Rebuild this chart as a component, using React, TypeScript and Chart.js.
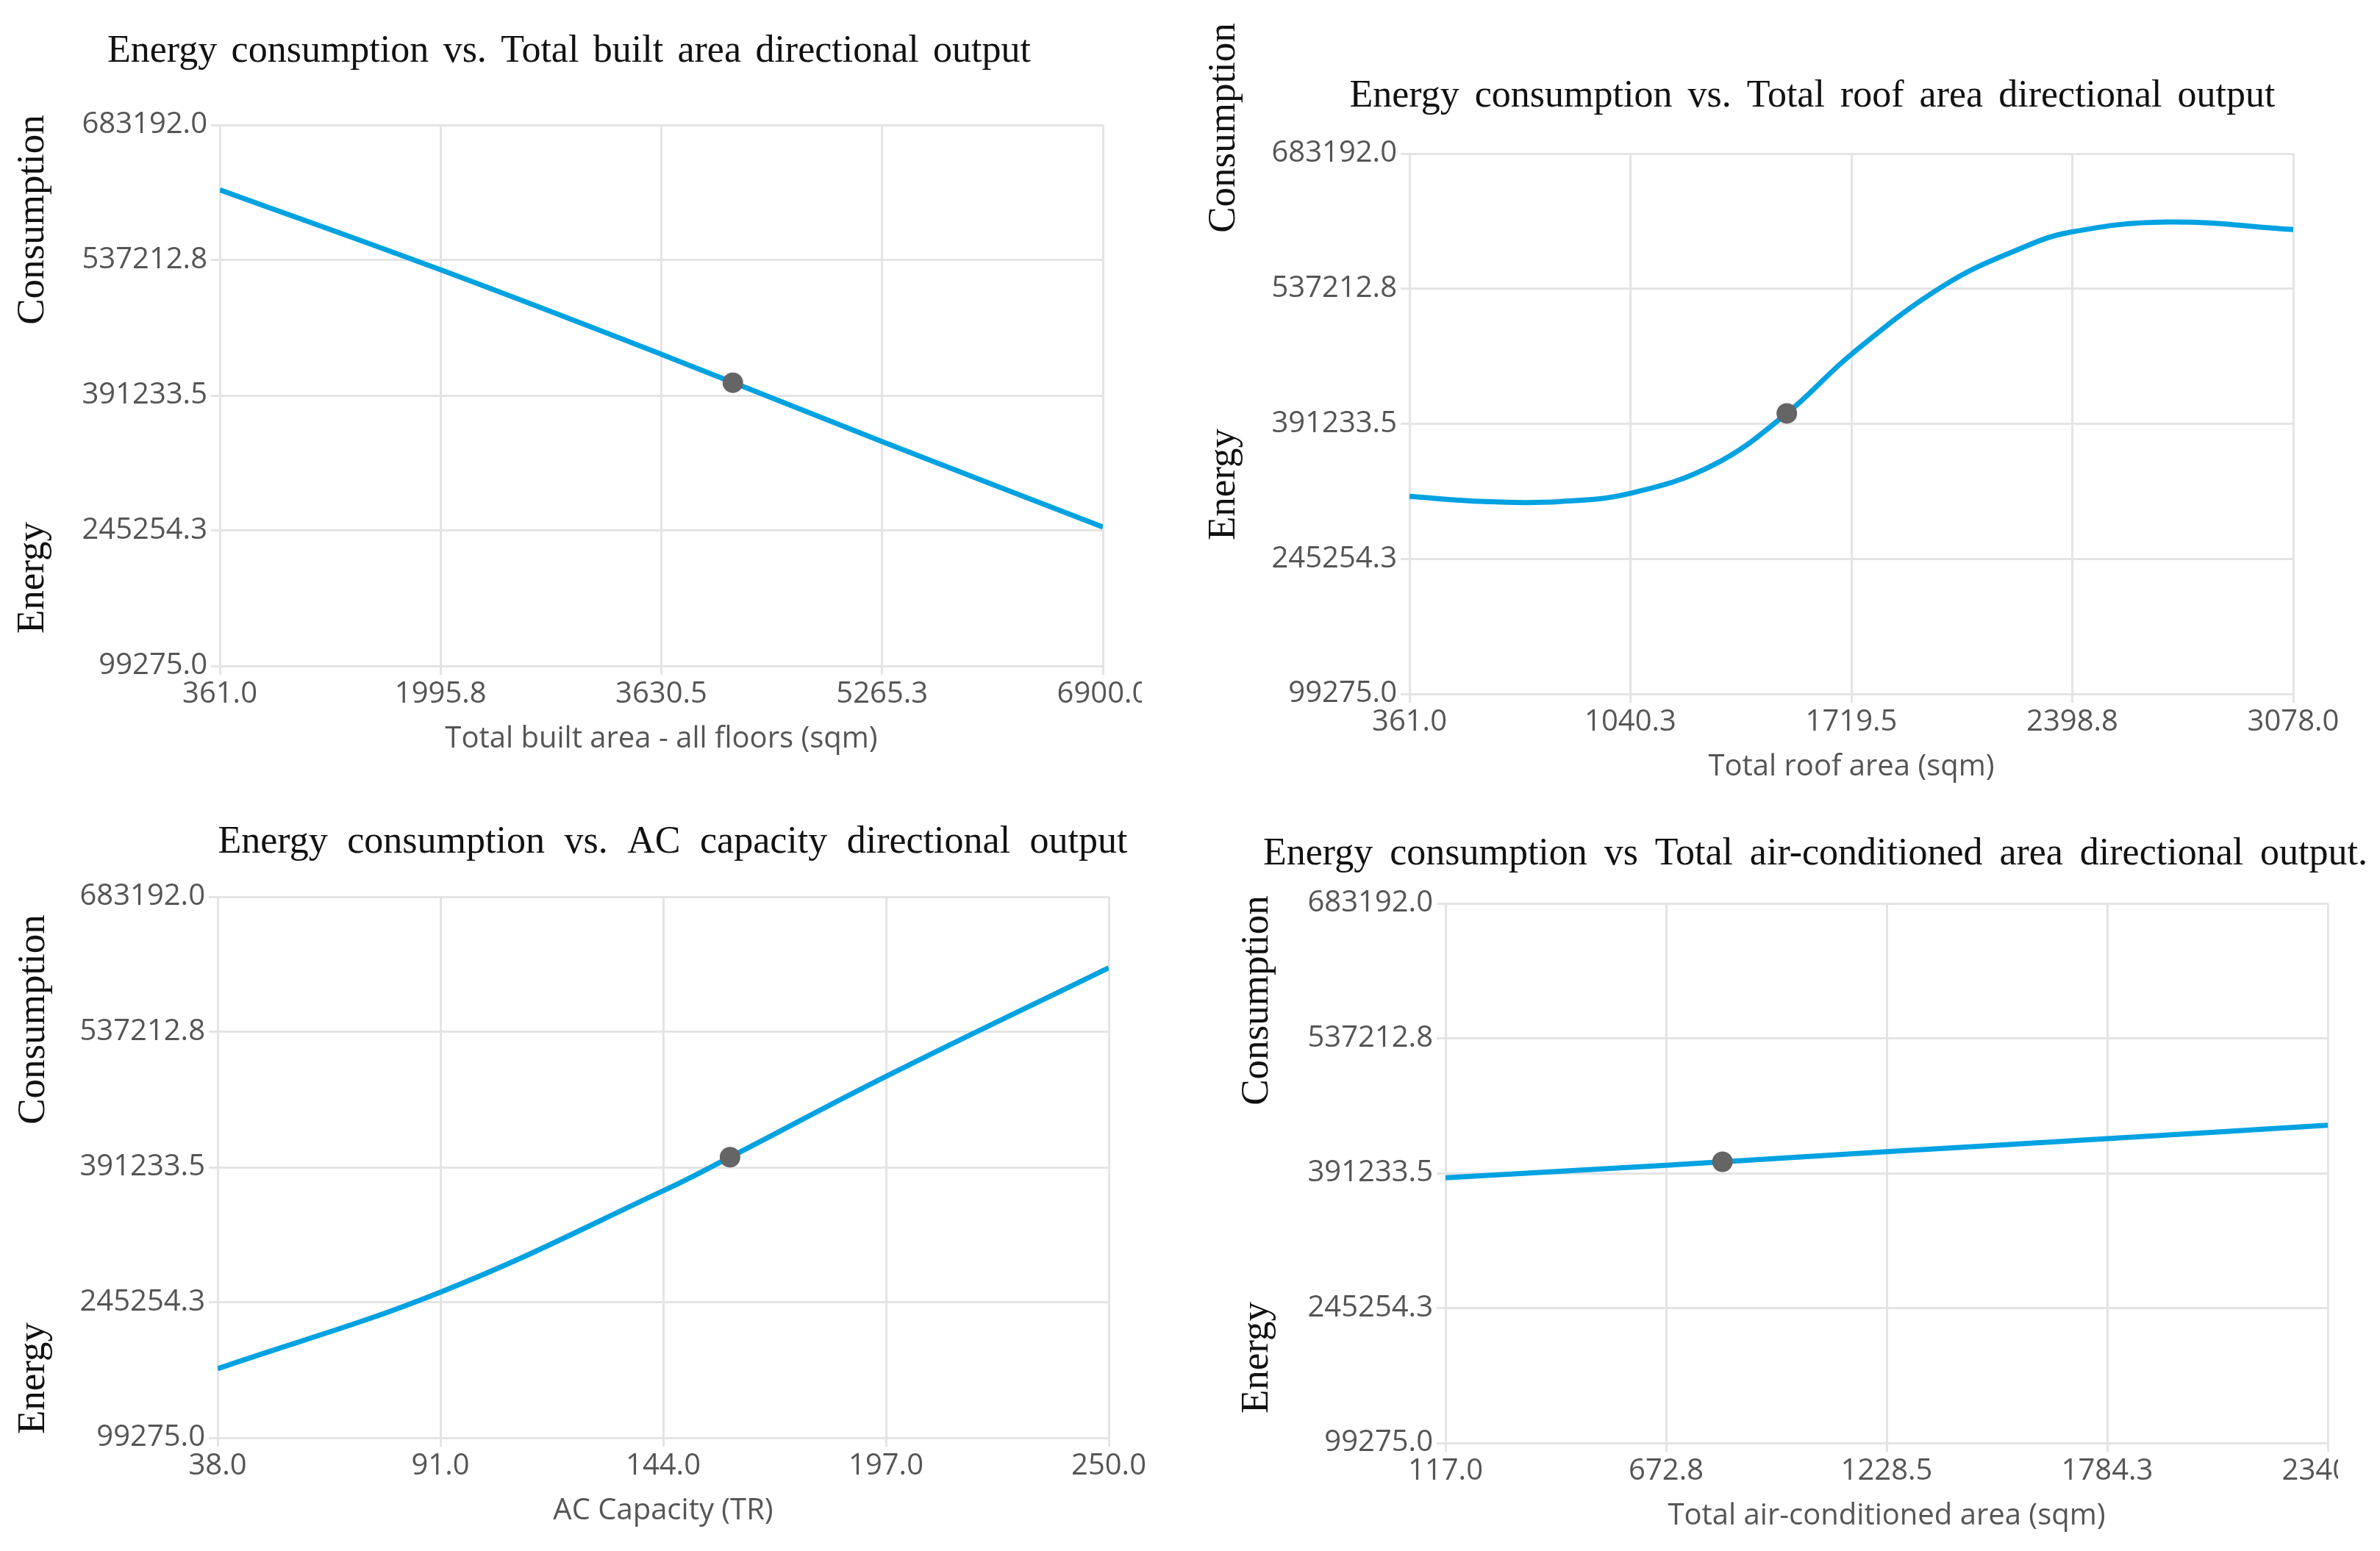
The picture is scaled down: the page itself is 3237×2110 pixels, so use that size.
import React, { useEffect, useRef } from 'react';
import { Chart, registerables } from 'chart.js';

Chart.register(...registerables);

// ---------------- data ----------------
const yTickValues = [99275.0, 245254.3, 391233.5, 537212.8, 683192.0];

// Panel 1: total built area
const builtAreaTicks = [361.0, 1995.8, 3630.5, 5265.3, 6900.0];
const builtAreaX = [361, 1995.8, 3630.5, 5265.3, 6900];
const builtAreaY = [613239, 526877, 435728, 341425, 249225];
const builtAreaPoint = [4160, 405000];

// Panel 2: total roof area
const roofTicks = [361.0, 1040.3, 1719.5, 2398.8, 3078.0];
const roofX = [361, 590, 826, 1045, 1297, 1521, 1722, 2005, 2241, 2394, 2689, 3078];
const roofY = [312694, 307229, 307229, 316492, 347000, 402445, 467026, 540892, 580832, 598349, 609326, 601094];
const roofPoint = [1521, 402445];

// Panel 3: AC capacity
const acTicks = [38.0, 91.0, 144.0, 197.0, 250.0];
const acX = [38, 91.4, 144.4, 159.9, 197, 250];
const acY = [173842, 257225, 366709, 402153, 489273, 606524];
const acPoint = [159.9, 402153];

// Panel 4: total air-conditioned area
const acAreaTicks = [117.0, 672.8, 1228.5, 1784.3, 2340.0];
const acAreaX = [117, 672.8, 1228.5, 1784.3, 2340];
const acAreaY = [386270, 399818, 414473, 428546, 443146];
const acAreaPoint = [814.8, 403563];

const titles = [
  'Energy consumption vs. Total built area directional output',
  'Energy consumption vs. Total roof area directional output',
  'Energy consumption vs. AC capacity directional output',
  'Energy consumption vs Total air-conditioned area directional output.',
];
const xTitles = [
  'Total built area - all floors (sqm)',
  'Total roof area (sqm)',
  'AC Capacity (TR)',
  'Total air-conditioned area (sqm)',
];
const yWordTop = 'Consumption';
const yWordBottom = 'Energy';

// ---------------- layout (page px) ----------------
type Box = { left: number; top: number; width: number; height: number };
type Rect = { L: number; T: number; R: number; B: number };
type PanelCfg = {
  box: Box;
  plot: Rect;
  clipX: number | null;
  title: string;
  titleX: number;
  titleY: number;
  titleW: number;
  wordX: number;
  consY: number;
  energyY: number;
  xTitle: string;
  xTicks: number[];
  xs: number[];
  ys: number[];
  point: number[];
};

const panels: PanelCfg[] = [
  {
    box: { left: 0, top: 0, width: 1620, height: 1080 },
    plot: { L: 299, T: 170, R: 1500, B: 906 },
    clipX: 1553,
    title: titles[0], titleX: 774, titleY: 70, titleW: 1256,
    wordX: 45, consY: 299, energyY: 786,
    xTitle: xTitles[0], xTicks: builtAreaTicks, xs: builtAreaX, ys: builtAreaY, point: builtAreaPoint,
  },
  {
    box: { left: 1600, top: 0, width: 1637, height: 1080 },
    plot: { L: 1917, T: 209, R: 3119, B: 944 },
    clipX: null,
    title: titles[1], titleX: 2465, titleY: 131, titleW: 1259,
    wordX: 1665, consY: 174, energyY: 659,
    xTitle: xTitles[1], xTicks: roofTicks, xs: roofX, ys: roofY, point: roofPoint,
  },
  {
    box: { left: 0, top: 1080, width: 1600, height: 1030 },
    plot: { L: 296, T: 1220, R: 1508, B: 1956 },
    clipX: null,
    title: titles[2], titleX: 915, titleY: 1146, titleW: 1237,
    wordX: 46, consY: 1387, energyY: 1875,
    xTitle: xTitles[2], xTicks: acTicks, xs: acX, ys: acY, point: acPoint,
  },
  {
    box: { left: 1600, top: 1080, width: 1686, height: 1030 },
    plot: { L: 1966, T: 1229, R: 3166, B: 1963 },
    clipX: 3180,
    title: titles[3], titleX: 2469, titleY: 1162, titleW: 1502,
    wordX: 1710, consY: 1361, energyY: 1847,
    xTitle: xTitles[3], xTicks: acAreaTicks, xs: acAreaX, ys: acAreaY, point: acAreaPoint,
  },
];

const Y_AXIS_W = 200;
const X_AXIS_H = 130;
const GRID = '#e4e4e4';
const TICK_COLOR = '#555555';
const SANS = '"Open Sans", "Noto Sans", sans-serif';
const SERIF = '"Liberation Serif", "DejaVu Serif", serif';
const TITLE_MAX = 52;
const WORD_SIZE = 53;

function Panel({ cfg }: { cfg: PanelCfg }) {
  const ref = useRef<HTMLCanvasElement | null>(null);

  useEffect(() => {
    const canvas = ref.current;
    if (!canvas) return;
    const { box, plot } = cfg;
    const lx = (x: number) => x - box.left;
    const ly = (y: number) => y - box.top;

    const textPlugin = {
      id: 'panelText',
      afterDraw(chart: any) {
        const ctx: CanvasRenderingContext2D = chart.ctx;
        ctx.save();
        ctx.fillStyle = '#111';
        ctx.textBaseline = 'middle';
        ctx.textAlign = 'left';
        // title: fit its span, then justify the words across it
        ctx.font = `100px ${SERIF}`;
        const natural = ctx.measureText(cfg.title).width;
        const size = Math.min(TITLE_MAX, (100 * cfg.titleW) / natural);
        ctx.font = `${size}px ${SERIF}`;
        const words = cfg.title.split(' ');
        const widths = words.map((w) => ctx.measureText(w).width);
        const total = widths.reduce((a, b) => a + b, 0);
        const gap = words.length > 1 ? (cfg.titleW - total) / (words.length - 1) : 0;
        let x = lx(cfg.titleX - cfg.titleW / 2);
        words.forEach((w, i) => {
          ctx.fillText(w, x, ly(cfg.titleY));
          x += widths[i] + gap;
        });
        // rotated y-axis words
        ctx.font = `${WORD_SIZE}px ${SERIF}`;
        ctx.textAlign = 'center';
        const items: [string, number][] = [
          [yWordTop, cfg.consY],
          [yWordBottom, cfg.energyY],
        ];
        items.forEach(([t, y]) => {
          ctx.save();
          ctx.translate(lx(cfg.wordX), ly(y));
          ctx.rotate(-Math.PI / 2);
          ctx.fillText(t, 0, 0);
          ctx.restore();
        });
        ctx.restore();
      },
    };

    const tickFont = { family: SANS, size: 40 };
    const gridOpts = { color: GRID, lineWidth: 3, tickLength: 12, drawTicks: true };
    const borderOpts = { display: true, color: GRID, width: 3 };

    const chart = new Chart(canvas, {
      type: 'line',
      data: {
        datasets: [
          {
            type: 'scatter',
            data: [{ x: cfg.point[0], y: cfg.point[1] }],
            pointRadius: 14,
            pointHoverRadius: 14,
            backgroundColor: '#656565',
            borderColor: '#656565',
            borderWidth: 0,
            showLine: false,
          } as any,
          {
            type: 'line',
            data: cfg.xs.map((x, i) => ({ x, y: cfg.ys[i] })),
            borderColor: '#00a2e1',
            borderWidth: 7,
            pointRadius: 0,
            tension: 0.4,
            fill: false,
          } as any,
        ],
      },
      options: {
        responsive: false,
        maintainAspectRatio: false,
        animation: false,
        devicePixelRatio: 1,
        events: [],
        layout: {
          padding: {
            left: lx(plot.L) - Y_AXIS_W,
            top: ly(plot.T),
            right: box.width - lx(plot.R),
            bottom: box.height - ly(plot.B) - X_AXIS_H,
          },
        },
        plugins: {
          legend: { display: false },
          tooltip: { enabled: false },
          title: { display: false },
        },
        scales: {
          x: {
            type: 'linear',
            min: cfg.xTicks[0],
            max: cfg.xTicks[cfg.xTicks.length - 1],
            afterBuildTicks: (s: any) => {
              s.ticks = cfg.xTicks.map((v) => ({ value: v }));
            },
            afterFit: (s: any) => {
              s.height = X_AXIS_H;
            },
            ticks: {
              callback: (v: any) => Number(v).toFixed(1),
              font: tickFont,
              color: TICK_COLOR,
              padding: 3,
              maxRotation: 0,
              autoSkip: false,
            },
            grid: gridOpts,
            border: borderOpts,
            title: {
              display: true,
              text: cfg.xTitle,
              font: tickFont,
              color: TICK_COLOR,
              padding: { top: 0, bottom: 6 },
            },
          },
          y: {
            type: 'linear',
            min: yTickValues[0],
            max: yTickValues[yTickValues.length - 1],
            afterBuildTicks: (s: any) => {
              s.ticks = yTickValues.map((v) => ({ value: v }));
            },
            afterFit: (s: any) => {
              s.width = Y_AXIS_W;
            },
            ticks: {
              callback: (v: any) => Number(v).toFixed(1),
              font: tickFont,
              color: TICK_COLOR,
              padding: 5,
              autoSkip: false,
            },
            grid: gridOpts,
            border: borderOpts,
          },
        },
      } as any,
      plugins: [textPlugin],
    });
    return () => chart.destroy();
  }, [cfg]);

  const { box, plot } = cfg;
  let clipPath: string | undefined;
  if (cfg.clipX !== null) {
    const cx = cfg.clipX - box.left;
    const cy = plot.B + 15 - box.top;
    clipPath = `polygon(0 0, 100% 0, 100% ${cy}px, ${cx}px ${cy}px, ${cx}px 100%, 0 100%)`;
  }

  return (
    <canvas
      ref={ref}
      width={box.width}
      height={box.height}
      style={{
        position: 'absolute',
        left: box.left,
        top: box.top,
        width: box.width,
        height: box.height,
        clipPath,
      }}
    />
  );
}

export default function App() {
  return (
    <div
      style={{
        position: 'absolute',
        left: 0,
        top: 0,
        width: 3237,
        height: 2110,
        overflow: 'hidden',
        background: '#ffffff',
      }}
    >
      {panels.map((p, i) => (
        <Panel key={i} cfg={p} />
      ))}
    </div>
  );
}
